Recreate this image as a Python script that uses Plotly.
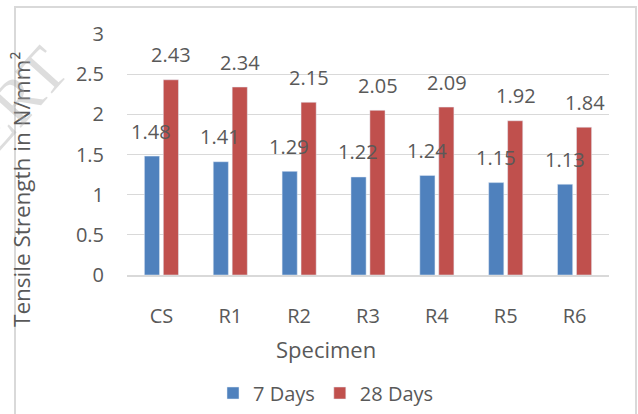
import plotly.graph_objects as go

# Split tensile strength of specimens (N/mm²)
specimens = ["CS", "R1", "R2", "R3", "R4", "R5", "R6"]
days_7 = [1.48, 1.41, 1.29, 1.22, 1.24, 1.15, 1.13]
days_28 = [2.43, 2.34, 2.15, 2.05, 2.09, 1.92, 1.84]
series_names = ["7 Days", "28 Days"]
y_ticks = [0, 0.5, 1, 1.5, 2, 2.5, 3]
y_tick_text = ["0", "0.5", "1", "1.5", "2", "2.5", "3"]

BLUE = "#4F81BD"
RED = "#C0504D"
TEXT = "#595959"
GRID = "#D9D9D9"
FONT = "Open Sans"

fig = go.Figure()
fig.add_trace(go.Bar(x=specimens, y=days_7, name=series_names[0], marker_color=BLUE))
fig.add_trace(go.Bar(x=specimens, y=days_28, name=series_names[1], marker_color=RED))

# value labels above each bar
for i, cat in enumerate(specimens):
    for vals, dx in ((days_7, -10), (days_28, 10)):
        fig.add_annotation(x=i, y=vals[i], text=f"{vals[i]:.2f}", xref="x", yref="y",
                           showarrow=False, xshift=dx, yshift=25,
                           xanchor="center", yanchor="middle",
                           font=dict(family=FONT, size=20, color=TEXT))

# geometry of the plot area in pixels
W, H = 638, 414
L, R, T, B = 127, 609, 34, 275
pw, ph = R - L, B - T


def px(x):
    return (x - L) / pw


def py(y):
    return (B - y) / ph


# axis titles
fig.add_annotation(x=px(22), y=py(190), xref="paper", yref="paper", showarrow=False,
                   xanchor="center", yanchor="middle",
                   text="Tensile Strength in N/mm²", textangle=-90,
                   font=dict(family=FONT, size=22.5, color=TEXT))
fig.add_annotation(x=px(326), y=py(349), xref="paper", yref="paper", showarrow=False,
                   xanchor="center", yanchor="middle",
                   text="Specimen", font=dict(family=FONT, size=22, color=TEXT))

# faint journal watermark
fig.add_annotation(x=px(0), y=py(118), xref="paper", yref="paper", showarrow=False,
                   xanchor="center", yanchor="middle",
                   text="IJERT", textangle=-48,
                   font=dict(family="Liberation Serif", size=64, color="rgba(170,170,170,0.4)"))

# chart frame
fig.add_shape(type="rect", xref="paper", yref="paper",
              x0=px(15), x1=px(636), y0=py(7), y1=py(430),
              line=dict(color=GRID, width=2), fillcolor="rgba(0,0,0,0)", layer="below")

fig.update_layout(
    width=W, height=H,
    margin=dict(l=L, r=W - R, t=T, b=H - B, pad=0, autoexpand=False),
    paper_bgcolor="white", plot_bgcolor="white",
    barmode="group", bargap=0.45, bargroupgap=0.2,
    font=dict(family=FONT, size=20, color=TEXT),
    showlegend=True,
    legend=dict(orientation="h", x=px(326), y=py(393), xanchor="center", yanchor="middle",
                font=dict(family=FONT, size=20, color=TEXT), itemwidth=30,
                bgcolor="rgba(0,0,0,0)"),
)
fig.update_xaxes(showgrid=False, showline=True, linecolor=GRID, linewidth=1.5,
                 ticks="", ticklabelstandoff=22, automargin=False,
                 tickfont=dict(size=20, color=TEXT))
fig.update_yaxes(range=[0, 3], tickvals=y_ticks, ticktext=y_tick_text, showgrid=True,
                 gridcolor=GRID, gridwidth=1, zeroline=False, showline=False, ticks="",
                 ticklabelstandoff=22, automargin=False,
                 tickfont=dict(size=20, color=TEXT))

fig.write_html("out.html")
